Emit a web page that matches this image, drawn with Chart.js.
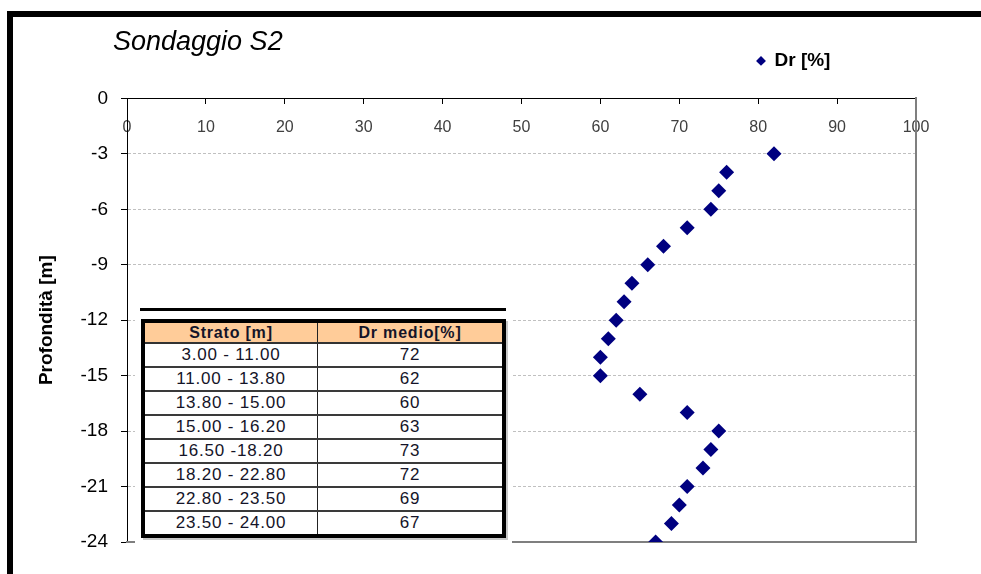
<!DOCTYPE html>
<html>
<head>
<meta charset="utf-8">
<script src="https://cdn.jsdelivr.net/npm/chart.js@4.4.1/dist/chart.umd.min.js"></script>
<style>
  html, body { margin: 0; padding: 0; background: #fff; }
  body { width: 981px; height: 574px; position: relative; overflow: hidden; font-family: "Liberation Sans", Arial, sans-serif; }
  #frame { position: absolute; left: 7px; top: 11px; width: 1100px; height: 700px; border-top: 6px solid #000; border-left: 6px solid #000; }
  #myChart { position: absolute; left: 0; top: 0; }
  #strati { position: absolute; left: 135px; top: 300px; width: 377px; height: 248px; background: #fff; }
  #strati .rule { position: absolute; left: 5px; top: 8px; width: 366px; height: 3px; background: #000; }
  #strati .box { position: absolute; left: 6px; top: 19px; width: 357px; height: 211px; border: 4px solid #000; box-shadow: 2px 2px 0 #c8c8c8; background: #fff; }
  #strati table { width: 100%; height: 100%; border-collapse: collapse; color: #141428; }
  #strati th { background: #ffcc99; font-size: 16px; font-weight: bold; letter-spacing: 0.8px; height: 19px; padding: 0; border-bottom: 2px solid #333; }
  #strati td { font-size: 17px; letter-spacing: 0.8px; text-align: center; padding: 0; border-top: 2px solid #3a3a3a; line-height: 20px; }
  #strati th:first-child, #strati td:first-child { width: 172px; border-right: 1px solid #222; }
  #strati tr:nth-child(2) td { border-top: none; }
</style>
</head>
<body>
<div id="frame"></div>
<canvas id="myChart" width="981" height="574"></canvas>
<div id="strati">
  <div class="rule"></div>
  <div class="box"><table id="tab"></table></div>
</div>
<script>
// profondita' [m] e Dr [%]
var depths = [-3, -4, -5, -6, -7, -8, -9, -10, -11, -12, -13, -14, -15, -16, -17, -18, -19, -20, -21, -22, -23, -24];
var drValues = [82, 76, 75, 74, 71, 68, 66, 64, 63, 62, 61, 60, 60, 65, 71, 75, 74, 73, 71, 70, 69, 67];

var xTicks = [0, 10, 20, 30, 40, 50, 60, 70, 80, 90, 100];
var yTicks = [0, -3, -6, -9, -12, -15, -18, -21, -24];

// tabella riassuntiva
var strati = ['3.00 - 11.00', '11.00 - 13.80', '13.80 - 15.00', '15.00 - 16.20', '16.50 -18.20', '18.20 - 22.80', '22.80 - 23.50', '23.50 - 24.00'];
var drMedio = [72, 62, 60, 63, 73, 72, 69, 67];

var tab = document.getElementById('tab');
var html = '<tr><th>Strato [m]</th><th>Dr medio[%]</th></tr>';
for (var i = 0; i < strati.length; i++) {
    html += '<tr><td>' + strati[i] + '</td><td>' + drMedio[i] + '</td></tr>';
}
tab.innerHTML = html;

Chart.defaults.font.family = '"Liberation Sans", Arial, sans-serif';

// sposta titolo e legenda dove stanno nel foglio excel
var nudge = {
    id: 'nudge',
    beforeDraw: function(chart) {
        var a = chart.chartArea;
        chart.titleBlock.left = a.left - 14;
        chart.legend.left = a.left + 620;
        chart.legend.top = a.top - 57;
    }
};

function setTicks(list) {
    return function(scale) {
        scale.ticks = list.map(function(v) { return {value: v}; });
    };
}

var points = depths.map(function(d, i) { return {x: drValues[i], y: d}; });

var ctx = document.getElementById('myChart').getContext('2d');
var myChart = new Chart(ctx, {
    type: 'scatter',
    data: {
        datasets: [{
            label: 'Dr [%]',
            data: points,
            pointStyle: 'rectRot',
            pointRadius: 7.5,
            pointHoverRadius: 7.5,
            backgroundColor: '#000080',
            borderColor: '#000080',
            borderWidth: 0
        }]
    },
    options: {
        responsive: false,
        animation: false,
        layout: { padding: { left: 0, right: 65, top: 0, bottom: 32 } },
        plugins: {
            title: {
                display: true,
                text: 'Sondaggio S2',
                align: 'start',
                color: '#000',
                font: { size: 27, style: 'italic', weight: 'normal' },
                padding: { top: 26, bottom: 1 }
            },
            legend: {
                display: true,
                position: 'top',
                align: 'start',
                labels: {
                    usePointStyle: true,
                    boxWidth: 8,
                    boxHeight: 7,
                    padding: 10,
                    color: '#000',
                    font: { size: 19, weight: 'bold' }
                }
            },
            tooltip: { enabled: false }
        },
        scales: {
            x: {
                type: 'linear',
                position: { y: 0 },
                min: 0,
                max: 100,
                afterBuildTicks: setTicks(xTicks),
                grid: { drawOnChartArea: false, tickLength: 5, tickColor: '#000' },
                border: { color: '#000', width: 1 },
                ticks: { padding: 15, color: '#404040', font: { size: 16 } }
            },
            y: {
                type: 'linear',
                position: 'left',
                min: -24,
                max: 0,
                afterBuildTicks: setTicks(yTicks),
                afterFit: function(scale) { scale.width = 127; },
                grid: {
                    color: function(c) {
                        var v = c.tick ? c.tick.value : null;
                        return (v === 0 || v === -24) ? 'rgba(0,0,0,0)' : '#c0c0c0';
                    },
                    tickColor: '#000',
                    tickLength: 6,
                    tickBorderDash: []
                },
                border: { color: '#000', width: 1, dash: [3, 2] },
                ticks: { padding: 13, color: '#000', font: { size: 19 } },
                title: {
                    display: true,
                    text: 'Profondità [m]',
                    color: '#000',
                    font: { size: 19, weight: 'bold' },
                    padding: { top: 35, bottom: 0 }
                }
            },
            x2: {
                type: 'linear',
                position: 'bottom',
                min: 0,
                max: 100,
                ticks: { display: false },
                grid: { drawOnChartArea: false, drawTicks: false },
                border: { color: '#7f7f7f', width: 2 }
            },
            y2: {
                type: 'linear',
                position: 'right',
                min: -24,
                max: 0,
                ticks: { display: false },
                grid: { drawOnChartArea: false, drawTicks: false },
                border: { color: '#7f7f7f', width: 2 }
            }
        }
    },
    plugins: [nudge]
});
</script>
</body>
</html>
